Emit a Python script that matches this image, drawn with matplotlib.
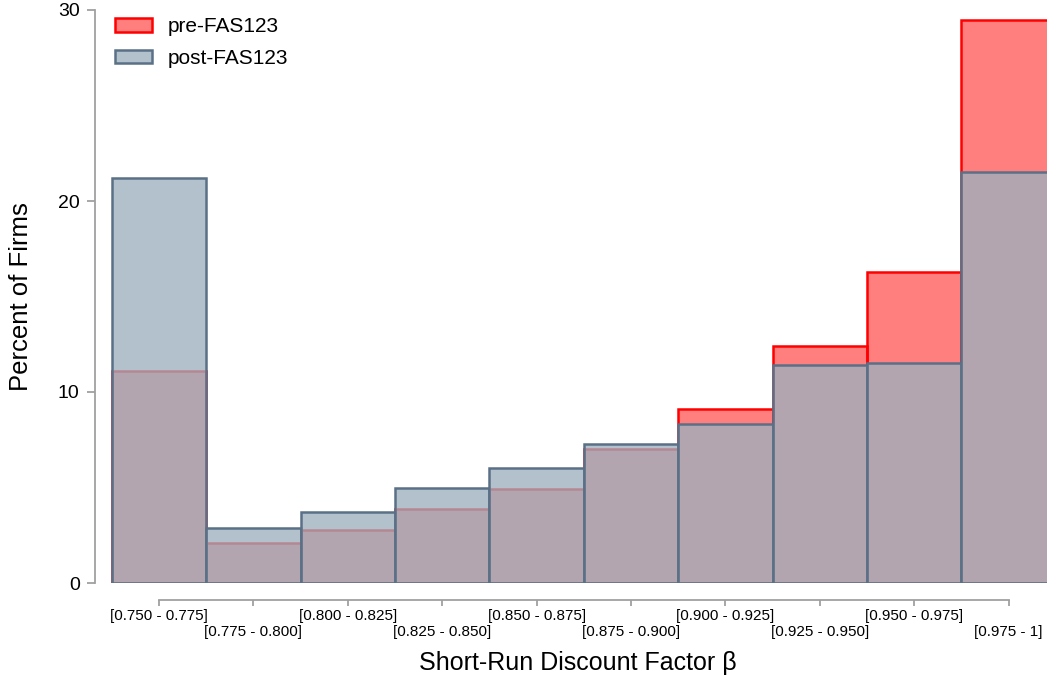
#!/usr/bin/env python3

import matplotlib
matplotlib.use("Agg")
import matplotlib.pyplot as plt
import numpy as np

plt.rcParams["font.family"] = ["Liberation Sans", "DejaVu Sans"]

bins = ["[0.750 - 0.775]", "[0.775 - 0.800]", "[0.800 - 0.825]",
        "[0.825 - 0.850]", "[0.850 - 0.875]", "[0.875 - 0.900]",
        "[0.900 - 0.925]", "[0.925 - 0.950]", "[0.950 - 0.975]",
        "[0.975 - 1]"]
pre_fas = [11.1, 2.1, 2.8, 3.9, 4.9, 7.0, 9.1, 12.4, 16.3, 29.5]
post_fas = [21.2, 2.9, 3.7, 5.0, 6.0, 7.3, 8.3, 11.4, 11.5, 21.5]

W, H = 1047, 681
fig = plt.figure(figsize=(W / 100, H / 100), dpi=100)
ax = fig.add_axes([95 / W, (H - 583) / H, (W - 95) / W, 573 / H])

x = np.arange(len(bins))
ax.bar(x, pre_fas, width=1.0, color=(1, 0, 0, 0.5), edgecolor="#ff0000",
       linewidth=1.8, label="pre-FAS123")
ax.bar(x, post_fas, width=1.0, color=(158 / 255, 176 / 255, 190 / 255, 0.78),
       edgecolor="#5a7087", linewidth=1.8, label="post-FAS123")

ax.set_xlim(-0.678, 9.407)
ax.set_ylim(0, 30)

spine_col = "#a0a0a0"
for s in ["top", "right"]:
    ax.spines[s].set_visible(False)
ax.spines["left"].set_color(spine_col)
ax.spines["left"].set_linewidth(1.3)
ax.spines["left"].set_bounds(0, 30)
ax.spines["bottom"].set_color(spine_col)
ax.spines["bottom"].set_linewidth(1.3)
ax.spines["bottom"].set_position(("outward", 12.5))
ax.spines["bottom"].set_bounds(0, 9)

ax.set_yticks([0, 10, 20, 30])
ax.tick_params(axis="y", length=6, width=1.3, color=spine_col, pad=5,
               labelsize=14)
ax.set_xticks(x)
ax.set_xticklabels([b if i % 2 == 0 else "\n" + b for i, b in enumerate(bins)])
ax.tick_params(axis="x", length=4.5, width=1.3, color=spine_col, pad=1.5,
               labelsize=11)

ax.set_ylabel("Percent of Firms", fontsize=18.5, labelpad=18)
ax.set_xlabel("Short-Run Discount Factor β", fontsize=18, labelpad=9)
ax.xaxis.label.set_x(0.507)

ax.legend(loc="upper left", bbox_to_anchor=(0.021, 0.987), frameon=False,
          fontsize=15, handlelength=1.78, handleheight=0.63, labelspacing=0.6,
          handletextpad=0.75, borderaxespad=0.0, borderpad=0.0)

fig.savefig("out.png", dpi=100)
